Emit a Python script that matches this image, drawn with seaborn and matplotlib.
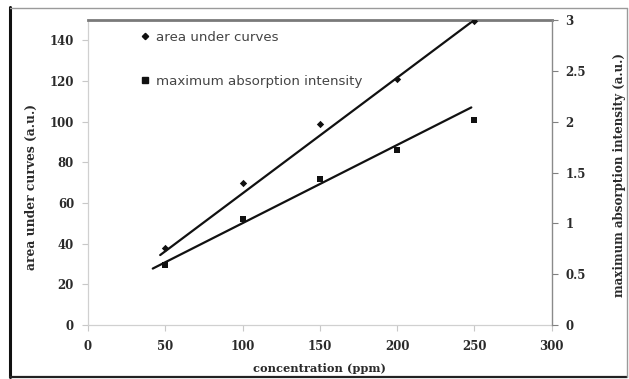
import matplotlib
matplotlib.use("Agg")
import matplotlib.pyplot as plt
from matplotlib.lines import Line2D
import seaborn as sns
import pandas as pd

# Measured values
concentration = [50, 100, 150, 200, 250]
area_under_curves = [38.0, 70.0, 99.0, 121.0, 149.5]
max_absorption = [0.59, 1.04, 1.44, 1.72, 2.02]

# Linear trend lines (end points)
area_trend_x = [46.7, 249.5]
area_trend_y = [34.4, 149.8]
absorption_trend_x = [41.9, 248.0]
absorption_trend_y = [0.555, 2.14]

x_ticks = [0, 50, 100, 150, 200, 250, 300]
left_ticks = [0, 20, 40, 60, 80, 100, 120, 140]
right_ticks = [0, 0.5, 1, 1.5, 2, 2.5, 3]
right_tick_labels = ["0", "0.5", "1", "1.5", "2", "2.5", "3"]

sns.set_theme(style="white")
plt.rcParams["font.family"] = ["DejaVu Serif"]

fig = plt.figure(figsize=(6.29, 3.79), dpi=100)
ax = fig.add_axes([88 / 629, 1 - 325 / 379, (551.7 - 88) / 629, (325 - 20) / 379])
ax2 = ax.twinx()

df = pd.DataFrame({"conc": concentration, "area": area_under_curves, "absorb": max_absorption})

sns.lineplot(x=area_trend_x, y=area_trend_y, ax=ax, color="#111111", linewidth=1.6)
sns.scatterplot(data=df, x="conc", y="area", ax=ax, marker="D", s=14, color="#111111",
                linewidth=0, zorder=5)
sns.lineplot(x=absorption_trend_x, y=absorption_trend_y, ax=ax2, color="#111111", linewidth=1.6)
sns.scatterplot(data=df, x="conc", y="absorb", ax=ax2, marker="s", s=24, color="#111111",
                linewidth=0, zorder=5)

ax.set_xlim(0, 300)
ax.set_ylim(0, 150)
ax2.set_ylim(0, 3)
ax.set_xticks(x_ticks)
ax.set_yticks(left_ticks)
ax2.set_yticks(right_ticks)
ax2.set_yticklabels(right_tick_labels)

for lab in ax.get_xticklabels() + ax.get_yticklabels() + ax2.get_yticklabels():
    lab.set_fontsize(8.5)
    lab.set_fontweight("bold")
    lab.set_color("#2a2a2a")

ax.tick_params(axis="both", direction="out", length=4, width=0.8, color="#c8c8c8",
               left=True, bottom=True, pad=6)
ax.tick_params(axis="x", pad=7)
ax2.tick_params(axis="y", direction="out", length=4, width=0.8, color="#808080",
                right=True, pad=6)

for side in ["left", "bottom"]:
    ax.spines[side].set_color("#d0d0d0")
    ax.spines[side].set_linewidth(0.9)
ax.spines["right"].set_visible(False)
ax.spines["top"].set_color("#7a7a7a")
ax.spines["top"].set_linewidth(2.0)
for side in ["left", "bottom", "top"]:
    ax2.spines[side].set_visible(False)
ax2.spines["right"].set_color("#8a8a8a")
ax2.spines["right"].set_linewidth(1.0)

label_kw = dict(fontweight="bold", color="#2a2a2a")
ax.set_xlabel("concentration (ppm)", fontsize=8.2, **label_kw)
ax.set_ylabel("area under curves (a.u.)", fontsize=8.8, **label_kw)
ax2.set_ylabel("maximum absorption intensity (a.u.)", rotation=90, fontsize=8.6, **label_kw)
ax.xaxis.set_label_coords(0.5, -(363 - 325) / 305)
ax.yaxis.set_label_coords((38 - 88) / 463.7, (325 - 187) / 305)
ax2.yaxis.set_label_coords((613 - 88) / 463.7, (325 - 175) / 305)

handles = [
    Line2D([], [], marker="D", linestyle="none", color="#111111", markersize=3.2),
    Line2D([], [], marker="s", linestyle="none", color="#111111", markersize=3.8),
]
leg = ax.legend(handles, ["area under curves", "maximum absorption intensity"],
                loc="upper left", bbox_to_anchor=((141 - 88) / 463.7, (325 - 31) / 305),
                frameon=False, handlelength=0.6, handletextpad=0.5, labelspacing=2.3,
                borderaxespad=0, borderpad=0,
                prop={"family": ["DejaVu Sans"], "size": 9.6})
for t in leg.get_texts():
    t.set_color("#444444")

# Outer frame around the figure
W, H = 629, 379
fig.add_artist(Line2D([9.5 / W, 9.5 / W], [1 - 7 / H, 1 - 377 / H], transform=fig.transFigure,
                      color="#111111", linewidth=2.2))
fig.add_artist(Line2D([9.5 / W, 627 / W], [1 - 377 / H, 1 - 377 / H], transform=fig.transFigure,
                      color="#222222", linewidth=1.6))
fig.add_artist(Line2D([9.5 / W, 627 / W], [1 - 7.5 / H, 1 - 7.5 / H], transform=fig.transFigure,
                      color="#9a9a9a", linewidth=1.0))
fig.add_artist(Line2D([627 / W, 627 / W], [1 - 7.5 / H, 1 - 377 / H], transform=fig.transFigure,
                      color="#9a9a9a", linewidth=1.0))

fig.savefig("out.png", dpi=100)
